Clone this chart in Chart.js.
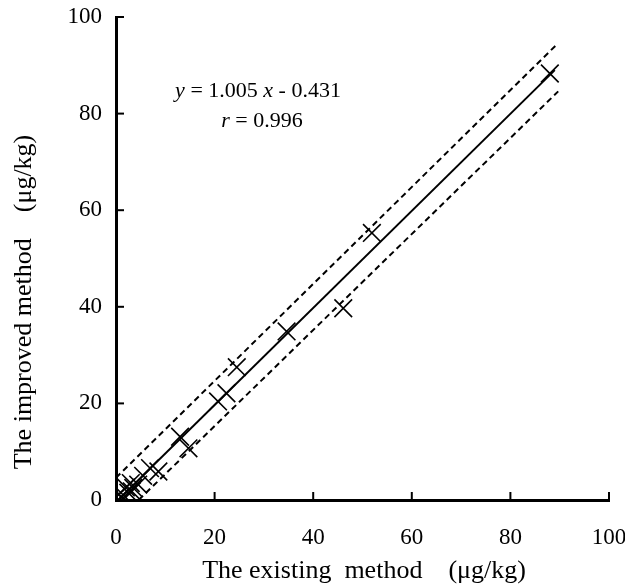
<!DOCTYPE html>
<html>
<head>
<meta charset="utf-8">
<script src="https://cdn.jsdelivr.net/npm/chart.js@4.4.1/dist/chart.umd.min.js"></script>
<style>
body { margin: 0; background: #fff; }
#wrap { width: 625px; height: 588px; }
</style>
</head>
<body>
<div id="wrap"><canvas id="chart"></canvas></div>
<script>
// measured values (existing vs improved method, µg/kg)
const existing = [88.0, 51.9, 46.1, 34.6, 24.5, 22.4, 20.7, 13.0, 14.7, 8.6, 6.9, 5.5, 4.5, 3.5, 3.0, 2.5, 2.0, 1.5, 1.0, 0.6, 3.2];
const improved = [88.3, 55.3, 39.7, 34.9, 27.5, 22.1, 20.4, 13.1, 10.7, 5.9, 6.6, 5.0, 3.2, 2.5, 3.5, 1.5, 2.6, 1.0, 0.6, 1.2, 1.8];

// regression line and limit lines
const fitX = [0.43, 89.0];
const fitY = [0.0, 89.0];
const upperX = [0.0, 89.2];
const upperY = [4.6, 94.1];
const lowerX = [4.6, 89.7];
const lowerY = [0.0, 84.6];

const tickValues = [0, 20, 40, 60, 80, 100];

const xTitle = "The existing  method    (\u03bcg/kg)";
const yTitle = "The improved method    (\u03bcg/kg)";

const serif = "'Liberation Serif', 'Times New Roman', serif";

function toPoints(xs, ys) {
    return xs.map((x, i) => ({ x: x, y: ys[i] }));
}

// draws inward tick marks, axis titles and the equation
const extras = {
    id: "extras",
    afterDraw(chart) {
        const ctx = chart.ctx;
        const xs = chart.scales.x;
        const ys = chart.scales.y;
        const area = chart.chartArea;

        ctx.save();
        ctx.strokeStyle = "#000";
        ctx.lineWidth = 2;
        tickValues.forEach(v => {
            const px = xs.getPixelForValue(v);
            ctx.beginPath();
            ctx.moveTo(px, area.bottom);
            ctx.lineTo(px, area.bottom - 8);
            ctx.stroke();
            const py = ys.getPixelForValue(v);
            ctx.beginPath();
            ctx.moveTo(area.left, py);
            ctx.lineTo(area.left + 8, py);
            ctx.stroke();
        });

        ctx.fillStyle = "#000";
        ctx.font = "26px " + serif;
        ctx.textAlign = "center";
        ctx.textBaseline = "middle";
        ctx.fillText(xTitle, 364, 571);

        ctx.save();
        ctx.translate(24, 302);
        ctx.rotate(-Math.PI / 2);
        ctx.fillText(yTitle, 0, 0);
        ctx.restore();

        // equation with italic variables
        const drawParts = (parts, cx, cy) => {
            let total = 0;
            parts.forEach(p => {
                ctx.font = (p.it ? "italic " : "") + "22px " + serif;
                p.w = ctx.measureText(p.t).width;
                total += p.w;
            });
            let x = cx - total / 2;
            ctx.textAlign = "left";
            ctx.textBaseline = "alphabetic";
            parts.forEach(p => {
                ctx.font = (p.it ? "italic " : "") + "22px " + serif;
                ctx.fillText(p.t, x, cy);
                x += p.w;
            });
        };
        drawParts([
            { t: "y", it: true }, { t: " = 1.005 ", it: false },
            { t: "x", it: true }, { t: " - 0.431", it: false }
        ], 258, 97);
        drawParts([
            { t: "r", it: true }, { t: " = 0.996", it: false }
        ], 262, 127);
        ctx.restore();
    }
};

const ctx = document.getElementById("chart").getContext("2d");

new Chart(ctx, {
    type: "scatter",
    data: {
        datasets: [
            {
                data: toPoints(existing, improved),
                showLine: false,
                pointStyle: "crossRot",
                pointRadius: 12.5,
                pointBorderWidth: 1.6,
                borderColor: "#000",
                backgroundColor: "#000"
            },
            {
                data: toPoints(fitX, fitY),
                showLine: true,
                pointRadius: 0,
                borderColor: "#000",
                borderWidth: 2
            },
            {
                data: toPoints(upperX, upperY),
                showLine: true,
                pointRadius: 0,
                borderColor: "#000",
                borderWidth: 2,
                borderDash: [6, 4]
            },
            {
                data: toPoints(lowerX, lowerY),
                showLine: true,
                pointRadius: 0,
                borderColor: "#000",
                borderWidth: 2,
                borderDash: [6, 4]
            }
        ]
    },
    options: {
        responsive: true,
        maintainAspectRatio: false,
        animation: false,
        layout: {
            padding: { top: 17, right: 16, left: 0, bottom: 0 }
        },
        plugins: {
            legend: { display: false },
            tooltip: { enabled: false }
        },
        scales: {
            x: {
                type: "linear",
                min: 0,
                max: 100,
                afterFit: s => {
                    s.height = 88;
                    s.paddingLeft = 0;
                    s.paddingRight = 0;
                },
                afterBuildTicks: s => { s.ticks = tickValues.map(v => ({ value: v })); },
                ticks: {
                    color: "#000",
                    padding: 24,
                    maxRotation: 0,
                    font: { family: serif, size: 23 }
                },
                grid: { drawOnChartArea: false, drawTicks: false },
                border: { color: "#000", width: 3 }
            },
            y: {
                type: "linear",
                min: 0,
                max: 100,
                afterFit: s => {
                    s.width = 116;
                    s.paddingTop = 0;
                    s.paddingBottom = 0;
                },
                afterBuildTicks: s => { s.ticks = tickValues.map(v => ({ value: v })); },
                ticks: {
                    color: "#000",
                    padding: 14,
                    font: { family: serif, size: 23 }
                },
                grid: { drawOnChartArea: false, drawTicks: false },
                border: { color: "#000", width: 3 }
            }
        }
    },
    plugins: [extras]
});
</script>
</body>
</html>
